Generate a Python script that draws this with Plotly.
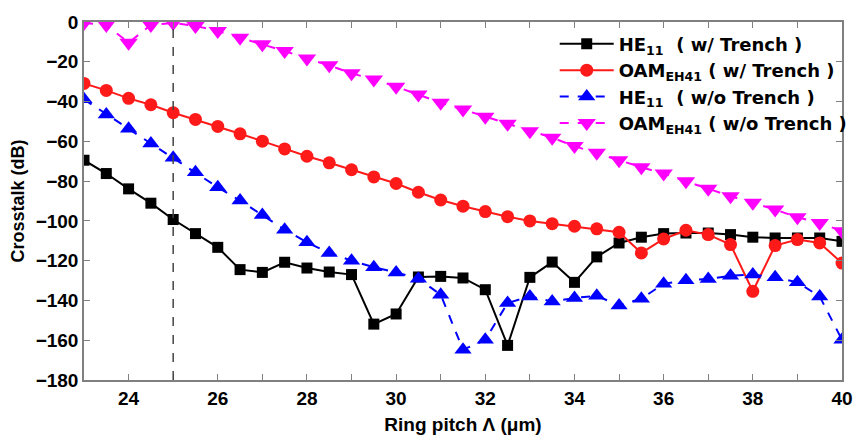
import plotly.graph_objects as go

pitch = [23, 23.5, 24, 24.5, 25, 25.5, 26, 26.5, 27, 27.5, 28, 28.5, 29, 29.5, 30, 30.5,
         31, 31.5, 32, 32.5, 33, 33.5, 34, 34.5, 35, 35.5, 36, 36.5, 37, 37.5, 38, 38.5,
         39, 39.5, 40]

he11_trench = [-69.5, -76.2, -83.9, -91.1, -99.3, -106.4, -113.3, -124.5, -125.9, -120.8,
               -123.7, -125.7, -127.0, -151.9, -146.8, -128.2, -127.9, -128.7, -134.6, -162.6,
               -128.4, -120.7, -130.9, -118.1, -111.1, -108.2, -106.4, -106.1, -106.1, -106.9,
               -108.2, -108.6, -108.6, -108.6, -110.3]

oam_trench = [-30.9, -34.4, -38.4, -41.6, -45.6, -49.0, -52.5, -56.2, -59.9, -63.8,
              -67.5, -70.8, -74.3, -77.9, -81.2, -85.6, -89.5, -92.6, -95.3, -97.9,
              -100.0, -101.4, -102.7, -104.0, -105.7, -116.1, -109.1, -104.7, -106.9, -111.9,
              -135.4, -112.4, -109.4, -111.1, -121.2]

he11_no_trench = [-38.9, -46.5, -53.7, -61.1, -68.3, -75.5, -83.1, -89.8, -97.0, -104.4,
                  -110.8, -116.1, -120.0, -123.3, -125.9, -129.1, -137.1, -164.8, -159.8, -141.3,
                  -138.0, -140.5, -138.8, -137.6, -142.6, -139.1, -131.6, -129.9, -129.2, -127.6,
                  -127.0, -128.4, -130.9, -138.0, -159.8]

oam_no_trench = [-0.5, -1.5, -10.4, -1.5, -0.5, -2.0, -4.5, -7.9, -11.2, -14.6,
                 -18.4, -21.8, -25.8, -28.9, -32.5, -36.4, -40.6, -44.0, -47.6, -51.2,
                 -54.9, -58.2, -62.4, -65.8, -69.5, -73.0, -76.2, -80.1, -83.9, -87.6,
                 -90.9, -94.3, -98.2, -101.0, -105.2]

selected_pitch = 25

names = [
    "HE<sub>11</sub>\u00a0\u00a0( w/ Trench )",
    "OAM<sub>EH41</sub> ( w/ Trench )",
    "HE<sub>11</sub>\u00a0\u00a0( w/o Trench )",
    "OAM<sub>EH41</sub> ( w/o Trench )",
]

FONT = "Liberation Sans, Arial, sans-serif"
LEGEND_FONT = "DejaVu Sans, Liberation Sans, sans-serif"

fig = go.Figure()
fig.add_trace(go.Scatter(x=pitch, y=he11_trench, name=names[0], mode="lines+markers",
                         line=dict(color="black", width=2),
                         marker=dict(symbol="square", size=11, color="black")))
fig.add_trace(go.Scatter(x=pitch, y=oam_trench, name=names[1], mode="lines+markers",
                         line=dict(color="#ff1a1a", width=2),
                         marker=dict(symbol="circle", size=13, color="#ff1a1a")))
fig.add_trace(go.Scatter(x=pitch, y=he11_no_trench, name=names[2], mode="lines+markers",
                         line=dict(color="#0000ff", width=2, dash="dash"),
                         marker=dict(symbol="triangle-up", size=15, color="#0000ff")))
fig.add_trace(go.Scatter(x=pitch, y=oam_no_trench, name=names[3], mode="lines+markers",
                         line=dict(color="#ff00ff", width=2, dash="dash"),
                         marker=dict(symbol="triangle-down", size=16, color="#ff00ff")))

fig.add_vline(x=selected_pitch, line=dict(color="#444444", width=1.5, dash="dash"))

fig.update_layout(
    width=865, height=435,
    margin=dict(l=84, r=13, t=22, b=55),
    paper_bgcolor="white", plot_bgcolor="white",
    font=dict(family=FONT, size=18, color="black", weight="bold"),
    showlegend=True,
    legend=dict(x=0.621, y=0.99, xanchor="left", yanchor="top",
                bgcolor="rgba(0,0,0,0)", borderwidth=0,
                font=dict(family=LEGEND_FONT, size=18, color="black", weight="bold"),
                itemwidth=54, tracegroupgap=0),
    xaxis=dict(range=[23, 40], tick0=24, dtick=2, ticks="inside", ticklen=6,
               tickcolor="#808080", showline=True, linecolor="#808080", linewidth=1.5,
               mirror="ticks", showgrid=False, zeroline=False, automargin=False,
               minor=dict(dtick=1, tick0=23, ticks="inside", ticklen=6, tickcolor="#808080"),
               title=dict(text="Ring pitch Λ (μm)", standoff=10,
                          font=dict(family=FONT, size=19, weight="bold")),
               tickfont=dict(family=FONT, size=19, weight="bold")),
    yaxis=dict(range=[-180, 0], dtick=20, ticks="inside", ticklen=6,
               tickcolor="#808080", showline=True, linecolor="#808080", linewidth=1.5,
               mirror="ticks", showgrid=False, zeroline=False, automargin=False,
               title=dict(text="Crosstalk (dB)", standoff=6,
                          font=dict(family=FONT, size=18, weight="bold")),
               tickfont=dict(family=FONT, size=19, weight="bold")),
)

fig.write_html("out.html")
